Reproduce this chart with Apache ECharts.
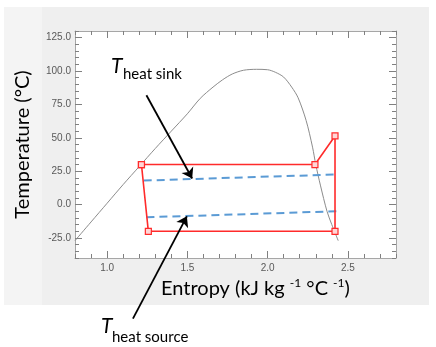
<!DOCTYPE html>
<html>
<head>
<meta charset="utf-8">
<script src="https://cdn.jsdelivr.net/npm/echarts@6/dist/echarts.min.js"></script>
<style>
  html, body { margin: 0; padding: 0; background: #ffffff; }
  #chart { width: 436px; height: 347px; }
</style>
</head>
<body>
<div id="chart"></div>
<script>
// Saturation dome of the refrigerant: entropy (kJ kg-1 °C-1) vs temperature (°C)
const domeEntropy = [0.80, 0.90, 1.00, 1.10, 1.20, 1.30, 1.40, 1.50, 1.58, 1.66, 1.72, 1.78, 1.85, 1.93, 2.00, 2.05, 2.10, 2.15, 2.19, 2.24, 2.28, 2.30, 2.33, 2.37, 2.40, 2.44];
const domeTemp    = [-27, -13, 1, 15, 28.5, 42, 55, 68, 79.5, 88, 93.5, 97.8, 100.6, 101.3, 101, 99, 95.5, 88, 80, 63, 43, 30, 14, -5, -15, -27];

// Heat pump cycle state points (closed loop)
const cycleEntropy = [1.214, 2.295, 2.42, 2.42, 1.257, 1.214];
const cycleTemp    = [30, 30, 51.4, -20, -20, 30];

// Heat sink and heat source temperature glides
const sinkEntropy   = [1.228, 2.414];
const sinkTemp      = [18, 22.5];
const sourceEntropy = [1.245, 2.43];
const sourceTemp    = [-9.5, -5];

// Annotation arrows, [tail, head] in data units
const sinkArrow   = [[1.245, 81.9], [1.530, 19.5]];
const sourceArrow = [[1.161, -85.4], [1.497, -8.8]];

// Axis tick values
const xTicks = [1.0, 1.5, 2.0, 2.5];
const yTicks = [-25, 0, 25, 50, 75, 100, 125];

const zip = (a, b) => a.map((v, i) => [v, b[i]]);

const AXIS_LINE = '#a6a6a6';
const TICK = '#808080';
const LABEL = '#595959';
const X_RANGE = { min: 0.8, max: 2.8 };
const Y_RANGE = { min: -40, max: 130 };

function majorX(position, withLabels) {
  return {
    type: 'value', position, ...X_RANGE,
    axisLine: { show: true, onZero: false, lineStyle: { color: AXIS_LINE, width: 1 } },
    axisTick: { show: true, inside: true, length: 7, customValues: xTicks, lineStyle: { color: TICK } },
    axisLabel: withLabels ? {
      show: true, customValues: xTicks, margin: 5,
      fontFamily: 'Liberation Sans', fontSize: 10, color: LABEL,
      formatter: v => v.toFixed(1)
    } : { show: false },
    splitLine: { show: false }
  };
}
function minorX(position) {
  return {
    type: 'value', position, ...X_RANGE, interval: 0.1,
    axisLine: { show: false, onZero: false },
    axisTick: { show: true, inside: true, length: 4, lineStyle: { color: TICK } },
    axisLabel: { show: false },
    splitLine: { show: false }
  };
}
function majorY(position, withLabels) {
  return {
    type: 'value', position, ...Y_RANGE,
    axisLine: { show: true, onZero: false, lineStyle: { color: AXIS_LINE, width: 1 } },
    axisTick: { show: true, inside: true, length: 7, customValues: yTicks, lineStyle: { color: TICK } },
    axisLabel: withLabels ? {
      show: true, customValues: yTicks, margin: 4,
      fontFamily: 'Liberation Sans', fontSize: 10, color: LABEL,
      formatter: v => v.toFixed(1)
    } : { show: false },
    splitLine: { show: false }
  };
}
function minorY(position) {
  return {
    type: 'value', position, ...Y_RANGE, interval: 5,
    axisLine: { show: false, onZero: false },
    axisTick: { show: true, inside: true, length: 4, lineStyle: { color: TICK } },
    axisLabel: { show: false },
    splitLine: { show: false }
  };
}

const chart = echarts.init(document.getElementById('chart'), null, { renderer: 'canvas' });

const yTitle = majorY('left', true);
Object.assign(yTitle, {
  name: 'Temperature (°C)', nameLocation: 'middle', nameGap: 42,
  nameTextStyle: { fontFamily: 'Lato', fontSize: 20, color: '#000' }
});

const option = {
  backgroundColor: '#ffffff',
  animation: false,
  grid: { left: 75, top: 31, width: 321, height: 227, show: true, backgroundColor: '#ffffff', borderWidth: 0 },
  xAxis: [majorX('bottom', true), minorX('bottom'), majorX('top', false), minorX('top')],
  yAxis: [yTitle, minorY('left'), majorY('right', false), minorY('right')],
  graphic: [
    { type: 'rect', z: -100, silent: true, shape: { x: 4, y: 7, width: 425, height: 298 }, style: { fill: '#efefef' } },
    { type: 'rect', z: -99, silent: true, shape: { x: 4, y: 7, width: 38, height: 298 }, style: { fill: '#f4f4f4' } },
    {
      type: 'text', z: 100, left: 161, top: 277,
      style: {
        text: '{a|Entropy (kJ kg }{b|-1}{a| °C }{b|-1}{a|)}',
        rich: {
          a: { fontFamily: 'Lato', fontSize: 20, lineHeight: 24, fill: '#000' },
          b: { fontFamily: 'Lato', fontSize: 12, lineHeight: 16, verticalAlign: 'top', fill: '#000' }
        }
      }
    },
    { type: 'text', z: 100, style: { x: 111, y: 66, text: 'T', fontFamily: 'Lato', fontStyle: 'italic', fontSize: 21, fill: '#000', verticalAlign: 'middle' } },
    { type: 'text', z: 100, style: { x: 123, y: 74, text: 'heat sink', fontFamily: 'Lato', fontSize: 15, fill: '#000', verticalAlign: 'middle' } },
    { type: 'text', z: 100, style: { x: 101, y: 326, text: 'T', fontFamily: 'Lato', fontStyle: 'italic', fontSize: 21, fill: '#000', verticalAlign: 'middle' } },
    { type: 'text', z: 100, style: { x: 112, y: 337, text: 'heat source', fontFamily: 'Lato', fontSize: 15, fill: '#000', verticalAlign: 'middle' } }
  ],
  series: [
    {
      name: 'Saturation dome', type: 'line', data: zip(domeEntropy, domeTemp),
      smooth: 0.3, symbol: 'none',
      lineStyle: { color: '#8c8c8c', width: 1 }, z: 2
    },
    {
      name: 'Heat sink', type: 'line', data: zip(sinkEntropy, sinkTemp),
      symbol: 'none', lineStyle: { color: '#5b9bd5', width: 2, type: [8, 5] }, z: 3
    },
    {
      name: 'Heat source', type: 'line', data: zip(sourceEntropy, sourceTemp),
      symbol: 'none', lineStyle: { color: '#5b9bd5', width: 2, type: [8, 5] }, z: 3
    },
    {
      name: 'Cycle', type: 'line', data: zip(cycleEntropy, cycleTemp),
      symbol: 'rect', symbolSize: 6, showAllSymbol: true,
      lineStyle: { color: '#ff2b2b', width: 1.6 },
      itemStyle: { color: '#ffd6d6', borderColor: '#ff2b2b', borderWidth: 1.2 },
      z: 4
    },
    {
      name: 'Arrows', type: 'lines', coordinateSystem: 'cartesian2d', clip: false,
      symbol: ['none', 'arrow'], symbolSize: [7, 10],
      lineStyle: { color: '#000', width: 1.8, opacity: 1 },
      data: [{ coords: sinkArrow }, { coords: sourceArrow }],
      z: 5
    }
  ]
};

chart.setOption(option);
</script>
</body>
</html>
